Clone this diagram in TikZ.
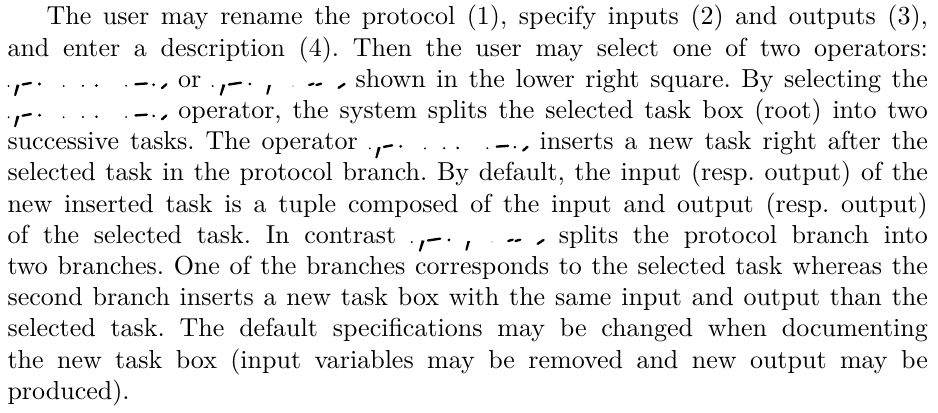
\documentclass[tikz,border=0pt]{standalone}
\begin{document}
\newlength{\paraw}
\setlength{\paraw}{354pt}
\tikzset{
  garble/.style={line width=0.9pt, line cap=round},
  para/.style={anchor=base west, inner sep=0pt}
}
% The two operator names, whose glyphs print only as broken fragments
\newcommand{\opseq}{\tikz[baseline=0pt,x=1pt,y=1pt]{%
  \useasboundingbox (0,-3.2) rectangle (61.5,4.3);
  \fill (0.4,0.5) circle (0.4);
  \fill (4.6,0.9) -- (3.5,1.1) -- (2.5,-3.1) -- (3.2,-3.3) -- cycle;
  \draw[garble] (5.8,1.1) -- (9.0,1.7);
  \fill (12.3,1.3) circle (0.6);
  \fill (21.6,0.5) circle (0.4);
  \fill (29.0,0.6) circle (0.45);
  \fill (34.2,0.7) circle (0.55);
  \fill (45.6,0.6) circle (0.4);
  \draw[garble] (49.2,1.2) -- (53.6,1.5);
  \fill (56.2,1.0) circle (0.55);
  \draw[garble] (59.4,-0.3) -- (61.1,1.2);
}}
\newcommand{\oppar}{\tikz[baseline=0pt,x=1pt,y=1pt]{%
  \useasboundingbox (0,-3.2) rectangle (51.2,4.3);
  \fill (0.3,0.5) circle (0.4);
  \fill (5.2,1.0) -- (4.1,1.2) -- (3.0,-3.0) -- (3.7,-3.2) -- cycle;
  \draw[garble] (6.5,1.1) -- (11.2,1.8);
  \fill (14.6,1.3) circle (0.6);
  \fill (22.7,0.8) -- (21.7,0.9) -- (20.9,-2.7) -- (21.6,-2.8) -- cycle;
  \fill[black!40] (31.2,0.5) circle (0.3);
  \draw[garble] (37.4,0.9) -- (39.1,1.4);
  \draw[garble] (40.2,0.9) -- (42.0,1.4);
  \draw[garble] (48.7,-0.2) -- (51.0,1.3);
}}
\begin{tikzpicture}
  \useasboundingbox (0,0) rectangle (360.8pt,158.8pt);
  \node[para] (text) at (2.7pt,149.2pt) {%
    \begin{minipage}[t]{\paraw}%
      \frenchspacing
      \setlength{\baselineskip}{12pt}%
      \makebox[\paraw][s]{\hspace*{15pt}The user may rename the protocol (1), specify inputs (2) and outputs (3),}\\
      \makebox[\paraw][s]{and enter a description (4). Then the user may select one of two operators:}\\
      \makebox[\paraw][s]{\opseq{} or \oppar{} shown in the lower right square. By selecting the}\\
      \makebox[\paraw][s]{\opseq{} operator, the system splits the selected task box (root) into two}\\
      \makebox[\paraw][s]{successive tasks. The operator \opseq{} inserts a new task right after the}\\
      \makebox[\paraw][s]{selected task in the protocol branch. By default, the input (resp. output) of the}\\
      \makebox[\paraw][s]{new inserted task is a tuple composed of the input and output (resp. output)}\\
      \makebox[\paraw][s]{of the selected task. In contrast \oppar{} splits the protocol branch into}\\
      \makebox[\paraw][s]{two branches. One of the branches corresponds to the selected task whereas the}\\
      \makebox[\paraw][s]{second branch inserts a new task box with the same input and output than the}\\
      \makebox[\paraw][s]{selected task. The default specifications may be changed when documenting}\\
      \makebox[\paraw][s]{the new task box (input variables may be removed and new output may be}\\
      produced).%
    \end{minipage}};
\end{tikzpicture}
\end{document}
